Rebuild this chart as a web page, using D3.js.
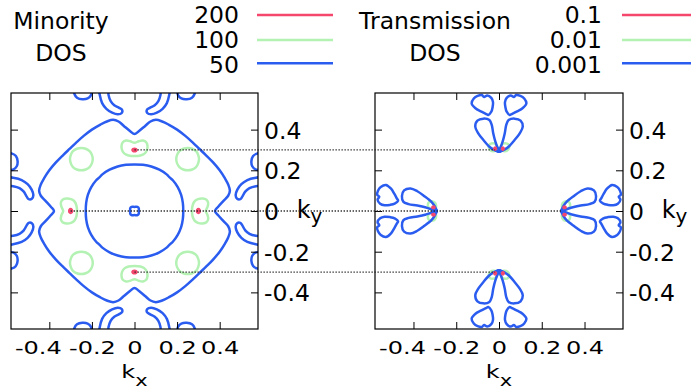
<!DOCTYPE html>
<html>
<head>
<meta charset="utf-8">
<script src="https://cdn.jsdelivr.net/npm/d3@7"></script>
<style>
  body { margin: 0; background: #fff; }
  text { font-family: "DejaVu Sans", sans-serif; fill: #000; }
</style>
</head>
<body>
<svg id="chart" width="691" height="392"></svg>
<script>
// ---- axis ticks ----
const kDomain = [-0.58, 0.58];
const kTicks = [-0.4, -0.2, 0, 0.2, 0.4];
const kTickLabels = ["-0.4", "-0.2", "0", "0.2", "0.4"];

// ---- contour levels ----
const dosLevels = ["200", "100", "50"];
const transLevels = ["0.1", "0.01", "0.001"];
const levelColors = ["#f5476e", "#b4f2b4", "#2b5cf0"];

// ---- minority DOS contours (kx, ky) ----
// first quadrant of the large closed contours, from +kx axis to +ky axis
const dosOuterQuadrant = [
  [0.378, 0], [0.392, 0.02], [0.418, 0.05], [0.44, 0.075], [0.448, 0.1],
  [0.44, 0.13], [0.425, 0.16], [0.4, 0.2], [0.368, 0.24], [0.335, 0.275],
  [0.305, 0.305], [0.275, 0.335], [0.24, 0.368], [0.2, 0.4], [0.16, 0.425],
  [0.13, 0.44], [0.1, 0.448], [0.075, 0.44], [0.05, 0.418], [0.02, 0.392], [0, 0.378]
];
const dosInnerQuadrant = [
  [0.229, 0], [0.227, 0.04], [0.219, 0.079], [0.203, 0.117], [0.18, 0.151],
  [0.165, 0.165], [0.151, 0.18], [0.117, 0.203], [0.079, 0.219], [0.04, 0.227], [0, 0.229]
];
const dosCenterQuadrant = [[0.02, 0], [0.02, 0.014], [0.014, 0.02], [0, 0.02]];
// small loops, one copy each; the others follow from the lattice symmetry
const dosPeak200 = [
  [0.012, 0.3], [0.008, 0.307], [0, 0.309], [-0.008, 0.307],
  [-0.012, 0.3], [-0.008, 0.293], [0, 0.291], [0.008, 0.293]
];
const dosKidney100 = [
  [0, 0.335], [0.02, 0.343], [0.04, 0.346], [0.055, 0.338], [0.061, 0.32],
  [0.058, 0.298], [0.047, 0.282], [0.028, 0.273], [0, 0.27], [-0.028, 0.273],
  [-0.047, 0.282], [-0.058, 0.298], [-0.061, 0.32], [-0.055, 0.338],
  [-0.04, 0.346], [-0.02, 0.343]
];
const dosRing100 = [
  [0.303, 0.255], [0.299, 0.276], [0.289, 0.294], [0.271, 0.306], [0.25, 0.31],
  [0.229, 0.306], [0.211, 0.294], [0.2, 0.276], [0.196, 0.255], [0.2, 0.234],
  [0.211, 0.216], [0.229, 0.204], [0.25, 0.2], [0.271, 0.204], [0.289, 0.216],
  [0.299, 0.234]
];
const dosHook50 = [
  [-0.168, 0.62], [-0.163, 0.57], [-0.152, 0.53], [-0.132, 0.502], [-0.105, 0.483],
  [-0.078, 0.475], [-0.06, 0.482], [-0.058, 0.497], [-0.072, 0.507], [-0.095, 0.52],
  [-0.112, 0.54], [-0.122, 0.57], [-0.126, 0.62]
];
const dosArc50 = [
  [-0.285, 0.62], [-0.282, 0.575], [-0.27, 0.557], [-0.245, 0.549],
  [-0.22, 0.553], [-0.205, 0.568], [-0.198, 0.62]
];

// ---- transmission contours (kx, ky) ----
const trLobe = [
  [-0.101, 0.444], [-0.073, 0.454], [-0.045, 0.447], [-0.034, 0.423], [-0.027, 0.382],
  [-0.017, 0.341], [-0.006, 0.31], [0.006, 0.292], [-0.008, 0.294], [-0.027, 0.303],
  [-0.045, 0.316], [-0.073, 0.349], [-0.097, 0.382], [-0.111, 0.414]
];
const trBlob = [
  [-0.128, 0.529], [-0.118, 0.553], [-0.1, 0.566], [-0.08, 0.57], [-0.07, 0.56],
  [-0.055, 0.568], [-0.036, 0.556], [-0.028, 0.535], [-0.03, 0.51], [-0.036, 0.488],
  [-0.05, 0.472], [-0.062, 0.478], [-0.085, 0.49], [-0.11, 0.505]
];
const trGreen = [
  [-0.008, 0.31], [-0.012, 0.325], [-0.028, 0.333], [-0.044, 0.327],
  [-0.048, 0.313], [-0.04, 0.299], [-0.026, 0.294], [-0.012, 0.298]
];
const trRed = [
  [-0.012, 0.307], [-0.015, 0.313], [-0.02, 0.314], [-0.024, 0.309],
  [-0.023, 0.302], [-0.018, 0.299], [-0.014, 0.301]
];

// guide lines joining matching points of the two maps: [left (kx,ky), right (kx,ky)]
const guideLines = [
  [[0, 0.3], [-0.018, 0.3]],
  [[-0.3, 0], [0.29, 0]],
  [[0, -0.3], [-0.018, -0.3]]
];

// ---- symmetry operations of the square lattice: (x,y) -> (a x + b y, c x + d y) ----
const rot4 = [[1, 0, 0, 1], [0, -1, 1, 0], [-1, 0, 0, -1], [0, 1, -1, 0]];
const mirror4 = [[1, 0, 0, 1], [-1, 0, 0, 1], [1, 0, 0, -1], [-1, 0, 0, -1]];
const c4v = [...rot4, [-1, 0, 0, 1], [1, 0, 0, -1], [0, 1, 1, 0], [0, -1, -1, 0]];

const applyOp = (pts, m) => pts.map(([x, y]) => [m[0] * x + m[1] * y, m[2] * x + m[3] * y]);
const images = (pts, ops) => ops.map(m => applyOp(pts, m));
function quadLoop(q) {
  const q2 = q.slice().reverse().map(([x, y]) => [-x, y]);
  const q3 = q.map(([x, y]) => [-x, -y]);
  const q4 = q.slice().reverse().map(([x, y]) => [x, -y]);
  return [...q, ...q2.slice(1), ...q3.slice(1), ...q4.slice(1, -1)];
}

const svg = d3.select("#chart");
const plotTop = 93, plotBottom = 329;
const yScale = d3.scaleLinear().domain(kDomain).range([plotBottom, plotTop]);

const panels = [
  {
    id: "dos", left: 11, right: 258, title: ["Minority", "DOS"], titleX: 61,
    levels: dosLevels, keyRight: 239, keyLine: [257, 333],
    layers: [
      { level: 1, closed: true, paths: [...images(dosKidney100, rot4), ...images(dosRing100, mirror4)] },
      { level: 2, closed: true, paths: [quadLoop(dosOuterQuadrant), quadLoop(dosInnerQuadrant), quadLoop(dosCenterQuadrant), ...images(dosHook50, c4v)] },
      { level: 2, closed: false, paths: images(dosArc50, c4v) },
      { level: 0, closed: true, fill: true, paths: images(dosPeak200, rot4) }
    ]
  },
  {
    id: "trans", left: 375, right: 623, title: ["Transmission", "DOS"], titleX: 435,
    levels: transLevels, keyRight: 602, keyLine: [622, 698],
    layers: [
      { level: 1, closed: true, paths: images(trGreen, c4v) },
      { level: 2, closed: true, paths: [...images(trLobe, c4v), ...images(trBlob, c4v)] },
      { level: 0, closed: true, fill: true, paths: images(trRed, c4v) }
    ]
  }
];

const keyRows = [15, 40, 63.3];
const keyBaselines = [23.3, 48.3, 72.7];

panels.forEach(p => {
  p.x = d3.scaleLinear().domain(kDomain).range([p.left, p.right]);
  const x = p.x, y = yScale;

  // title and key
  const g = svg.append("g").attr("class", "panel-" + p.id);
  g.append("text").attr("x", p.titleX).attr("y", 29.3).attr("text-anchor", "middle")
    .style("font-size", "23.5px").text(p.title[0]);
  g.append("text").attr("x", p.titleX).attr("y", 60.7).attr("text-anchor", "middle")
    .style("font-size", "23.5px").text(p.title[1]);
  p.levels.forEach((lv, i) => {
    g.append("text").attr("x", p.keyRight).attr("y", keyBaselines[i]).attr("text-anchor", "end")
      .style("font-size", "23.5px").text(lv);
    g.append("line").attr("x1", p.keyLine[0]).attr("x2", p.keyLine[1])
      .attr("y1", keyRows[i]).attr("y2", keyRows[i])
      .attr("stroke", levelColors[i]).attr("stroke-width", 2.5);
  });

  // contours, clipped to the plot frame
  const clipId = "clip-" + p.id;
  svg.append("clipPath").attr("id", clipId).append("rect")
    .attr("x", p.left).attr("y", plotTop).attr("width", p.right - p.left).attr("height", plotBottom - plotTop);
  const plot = g.append("g").attr("clip-path", `url(#${clipId})`);
  const closedLine = d3.line().x(d => x(d[0])).y(d => y(d[1])).curve(d3.curveCatmullRomClosed.alpha(0.5));
  const openLine = d3.line().x(d => x(d[0])).y(d => y(d[1])).curve(d3.curveCatmullRom.alpha(0.5));
  p.layers.forEach(layer => {
    plot.selectAll(null).data(layer.paths).join("path")
      .attr("d", layer.closed ? closedLine : openLine)
      .attr("fill", layer.fill ? levelColors[layer.level] : "none")
      .attr("stroke", levelColors[layer.level])
      .attr("stroke-width", layer.fill ? 1.5 : 2.5)
      .attr("stroke-linejoin", "round");
  });

  // axes with inward ticks on all four sides
  const tick = -7;
  const axB = g.append("g").attr("transform", `translate(0,${plotBottom})`)
    .call(d3.axisBottom(x).tickValues(kTicks).tickSize(tick).tickSizeOuter(0)
      .tickFormat((d, i) => kTickLabels[i]));
  axB.selectAll("text").attr("y", 0).attr("dy", null)
    .attr("dx", (d, i) => (i === 0 ? -11.5 : 0))
    .attr("transform", `translate(0,${354.3 - plotBottom}) scale(1,0.73)`)
    .style("font-size", "24px").style("font-family", "DejaVu Sans");
  g.append("g").attr("transform", `translate(0,${plotTop})`)
    .call(d3.axisTop(x).tickValues(kTicks).tickSize(tick).tickSizeOuter(0).tickFormat(""));
  g.append("g").attr("transform", `translate(${p.left},0)`)
    .call(d3.axisLeft(y).tickValues(kTicks).tickSize(tick).tickSizeOuter(0).tickFormat(""));
  const axR = g.append("g").attr("transform", `translate(${p.right},0)`)
    .call(d3.axisRight(y).tickValues(kTicks).tickSize(tick).tickSizeOuter(0)
      .tickFormat((d, i) => kTickLabels[i]));
  axR.selectAll("text").attr("x", 6).attr("dy", "0.36em")
    .style("font-size", "23.5px").style("font-family", "DejaVu Sans");
  g.selectAll(".domain").remove();
  g.selectAll(".tick line").attr("stroke", "#000").attr("stroke-width", 1);
  g.append("rect").attr("x", p.left).attr("y", plotTop)
    .attr("width", p.right - p.left).attr("height", plotBottom - plotTop)
    .attr("fill", "none").attr("stroke", "#000").attr("stroke-width", 1.2);

  // axis titles
  const kx = g.append("text").attr("text-anchor", "middle")
    .attr("transform", `translate(${(p.left + p.right) / 2},378.3) scale(1,0.73)`)
    .style("font-size", "24px");
  kx.append("tspan").text("k");
  kx.append("tspan").attr("dy", 11).style("font-size", "21px").text("x");
  const ky = g.append("text").attr("x", p.right + 38.7).attr("y", 218).style("font-size", "24px");
  ky.append("tspan").text("k");
  ky.append("tspan").attr("dy", 4.5).style("font-size", "20px").text("y");
});

// dotted guide lines across both maps
const [pl, pr] = panels;
svg.append("g").selectAll("line").data(guideLines).join("line")
  .attr("x1", d => pl.x(d[0][0])).attr("y1", d => yScale(d[0][1]))
  .attr("x2", d => pr.x(d[1][0])).attr("y2", d => yScale(d[1][1]))
  .attr("stroke", "#222").attr("stroke-width", 1.3).attr("stroke-dasharray", "1.3,1.7");
</script>
</body>
</html>
